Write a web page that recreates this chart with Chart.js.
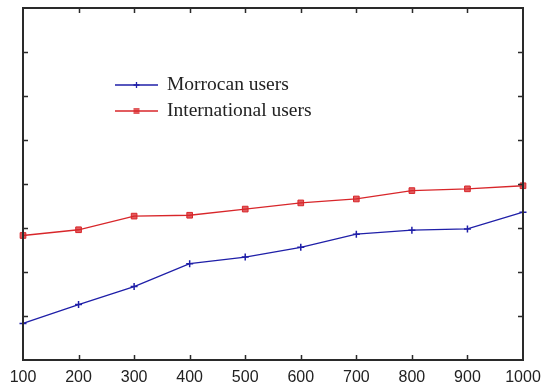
<!DOCTYPE html>
<html>
<head>
<meta charset="utf-8">
<script src="https://cdn.jsdelivr.net/npm/chart.js@4"></script>
<style>
  html, body { margin: 0; padding: 0; background: #fff; }
  #wrap { width: 546px; height: 387px; }
</style>
</head>
<body>
<div id="wrap"><canvas id="c" width="546" height="387"></canvas></div>
<script>
// Number of users on the x axis, response measure on the y axis
const categories = ['100', '200', '300', '400', '500', '600', '700', '800', '900', '1000'];
const moroccanUsers = [0.83, 1.26, 1.67, 2.19, 2.34, 2.56, 2.86, 2.95, 2.98, 3.36];
const internationalUsers = [2.83, 2.96, 3.27, 3.29, 3.43, 3.57, 3.66, 3.85, 3.89, 3.96];
const seriesNames = ['Morrocan users', 'International users'];

const BLUE = '#1f1fa8';
const RED = '#d8262a';
const FRAME = '#2a2a2a';

// Boxed frame with inward tick marks on every side
const framePlugin = {
  id: 'frame',
  afterDatasetsDraw(chart) {
    const { ctx, chartArea: a, scales } = chart;
    const len = 5;
    ctx.save();
    ctx.strokeStyle = FRAME;
    ctx.lineWidth = 1.5;
    ctx.beginPath();
    const ys = scales.y;
    for (let i = 1; i < ys.ticks.length - 1; i++) {
      const p = Math.round(ys.getPixelForTick(i)) + 0.5;
      ctx.moveTo(a.left, p); ctx.lineTo(a.left + len, p);
      ctx.moveTo(a.right, p); ctx.lineTo(a.right - len, p);
    }
    const xs = scales.x;
    for (let i = 1; i < xs.ticks.length - 1; i++) {
      const p = Math.round(xs.getPixelForTick(i)) + 0.5;
      ctx.moveTo(p, a.bottom); ctx.lineTo(p, a.bottom - len);
      ctx.moveTo(p, a.top); ctx.lineTo(p, a.top + len);
    }
    ctx.stroke();
    ctx.lineWidth = 2;
    ctx.strokeRect(a.left, a.top, a.right - a.left, a.bottom - a.top);
    ctx.restore();
  }
};

// Legend drawn inside the plot, line sample with its marker and a serif label
const innerLegend = {
  id: 'innerLegend',
  afterDraw(chart) {
    const { ctx } = chart;
    const x0 = 115, x1 = 158, tx = 167;
    const rows = [85, 111];
    ctx.save();
    chart.data.datasets.forEach((ds, i) => {
      const y = rows[i];
      ctx.strokeStyle = ds.borderColor;
      ctx.lineWidth = 1.3;
      ctx.beginPath();
      ctx.moveTo(x0, y); ctx.lineTo(x1, y);
      ctx.stroke();
      const mx = (x0 + x1) / 2;
      if (ds.pointStyle === 'cross') {
        ctx.beginPath();
        ctx.moveTo(mx - 3, y); ctx.lineTo(mx + 3, y);
        ctx.moveTo(mx, y - 3); ctx.lineTo(mx, y + 3);
        ctx.stroke();
      } else {
        ctx.fillStyle = ds.pointBackgroundColor;
        ctx.fillRect(mx - 3, y - 3, 6, 6);
      }
      ctx.fillStyle = '#222';
      ctx.font = '19.5px "Liberation Serif", "Times New Roman", serif';
      ctx.textBaseline = 'middle';
      ctx.fillText(ds.label, tx, y);
    });
    ctx.restore();
  }
};

new Chart(document.getElementById('c'), {
  type: 'line',
  data: {
    labels: categories,
    datasets: [
      {
        label: seriesNames[0],
        data: moroccanUsers,
        borderColor: BLUE,
        borderWidth: 1.3,
        pointStyle: 'cross',
        pointRadius: 3.5,
        pointBorderWidth: 1.5,
        pointBorderColor: BLUE,
        pointBackgroundColor: BLUE,
        tension: 0
      },
      {
        label: seriesNames[1],
        data: internationalUsers,
        borderColor: RED,
        borderWidth: 1.3,
        pointStyle: 'rect',
        pointRadius: 4,
        pointBorderWidth: 1,
        pointBorderColor: RED,
        pointBackgroundColor: 'rgba(216,38,42,0.75)',
        tension: 0
      }
    ]
  },
  options: {
    responsive: false,
    animation: false,
    devicePixelRatio: 1,
    layout: { padding: { left: 23, right: 23, top: 8, bottom: 0 } },
    plugins: {
      legend: { display: false },
      tooltip: { enabled: false }
    },
    scales: {
      x: {
        type: 'category',
        offset: false,
        grid: { display: false, drawTicks: false },
        border: { display: false },
        ticks: {
          color: '#222',
          padding: 8,
          maxRotation: 0,
          autoSkip: false,
          font: { family: '"Liberation Sans", Arial, sans-serif', size: 16 }
        },
        afterFit(scale) {
          scale.height = 27;
          scale.paddingLeft = 0;
          scale.paddingRight = 0;
        }
      },
      y: {
        min: 0,
        max: 8,
        grid: { display: false, drawTicks: false },
        border: { display: false },
        ticks: { display: false, stepSize: 1 }
      }
    }
  },
  plugins: [framePlugin, innerLegend]
});
</script>
</body>
</html>
